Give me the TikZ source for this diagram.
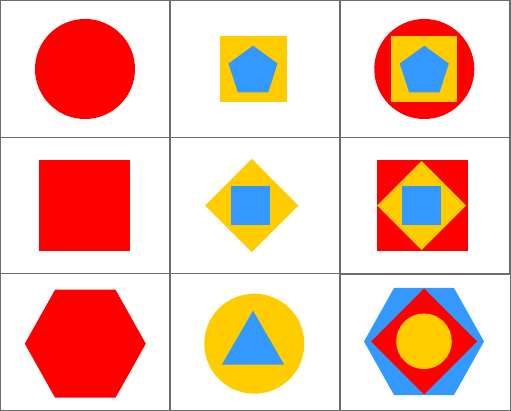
\documentclass[tikz,border=0pt]{standalone}
\usetikzlibrary{shapes.geometric}
\definecolor{shred}{HTML}{FF0000}
\definecolor{shyellow}{HTML}{FFCC00}
\definecolor{shblue}{HTML}{3399FF}

\begin{document}
\begin{tikzpicture}[
  x=1pt, y=-1pt,
  cell/.style={draw=gray!85!black, line width=1.2pt, minimum width=170pt, minimum height=136.5pt, inner sep=0pt},
  form/.style={inner sep=0pt, outer sep=0pt, draw=none},
  disc/.style={form, circle, minimum size=#1},
  sq/.style={form, rectangle, minimum size=#1},
  diam/.style={form, diamond, minimum width=#1, minimum height=#1},
  penta/.style={form, regular polygon, regular polygon sides=5, minimum size=#1},
  hexa/.style={form, regular polygon, regular polygon sides=6, minimum size=#1},
  tri/.style={form, regular polygon, regular polygon sides=3, minimum size=#1}
]
  \useasboundingbox (0,0) rectangle (511,411);

  % grid of cells
  \node[cell] (c11) at (85,69) {};
  \node[cell] (c12) at (255,69) {};
  \node[cell] (c13) at (425,69) {};
  \node[cell] (c21) at (85,205.5) {};
  \node[cell] (c22) at (255,205.5) {};
  \node[cell] (c23) at (425,205.5) {};
  \node[cell] (c31) at (85,342) {};
  \node[cell] (c32) at (255,342) {};
  \node[cell] (c33) at (425.5,342.5) {};

  % row 1
  \node[disc=100pt, fill=shred] (circA) at (85,69) {};
  \node[sq=66.7pt, fill=shyellow] (sqB) at (253.3,69) {};
  \node[penta=51.6pt, fill=shblue] (pentB) at (253,71.5) {};
  \node[disc=100pt, fill=shred] (circC) at (424.3,69) {};
  \node[sq=66.7pt, fill=shyellow] (sqC) at (424,69) {};
  \node[penta=51.6pt, fill=shblue] (pentC) at (424.3,71.5) {};

  % row 2
  \node[sq=90.7pt, fill=shred] (sqD) at (84.3,205.3) {};
  \node[diam=93.3pt, fill=shyellow] (diamE) at (251.7,205.5) {};
  \node[sq=39pt, fill=shblue] (sqE) at (250.3,205.3) {};
  \node[sq=91pt, fill=shred] (sqF) at (422.2,205.2) {};
  \node[diam=89pt, fill=shyellow] (diamF) at (421.7,205.5) {};
  \node[sq=39pt, fill=shblue] (sqF2) at (421.5,205.3) {};

  % row 3
  \node[hexa=121pt, fill=shred, yscale=1.03] (hexG) at (85.3,343.7) {};
  \node[disc=100pt, fill=shyellow] (circH) at (254.3,343.7) {};
  \node[tri=72pt, fill=shblue] (triH) at (253,346.7) {};
  \node[hexa=120pt, fill=shblue, yscale=1.03] (hexI) at (424,341.5) {};
  \node[diam=106pt, fill=shred] (diamI) at (424,341.5) {};
  \node[disc=55.6pt, fill=shyellow] (circI) at (424,341.3) {};
\end{tikzpicture}
\end{document}
